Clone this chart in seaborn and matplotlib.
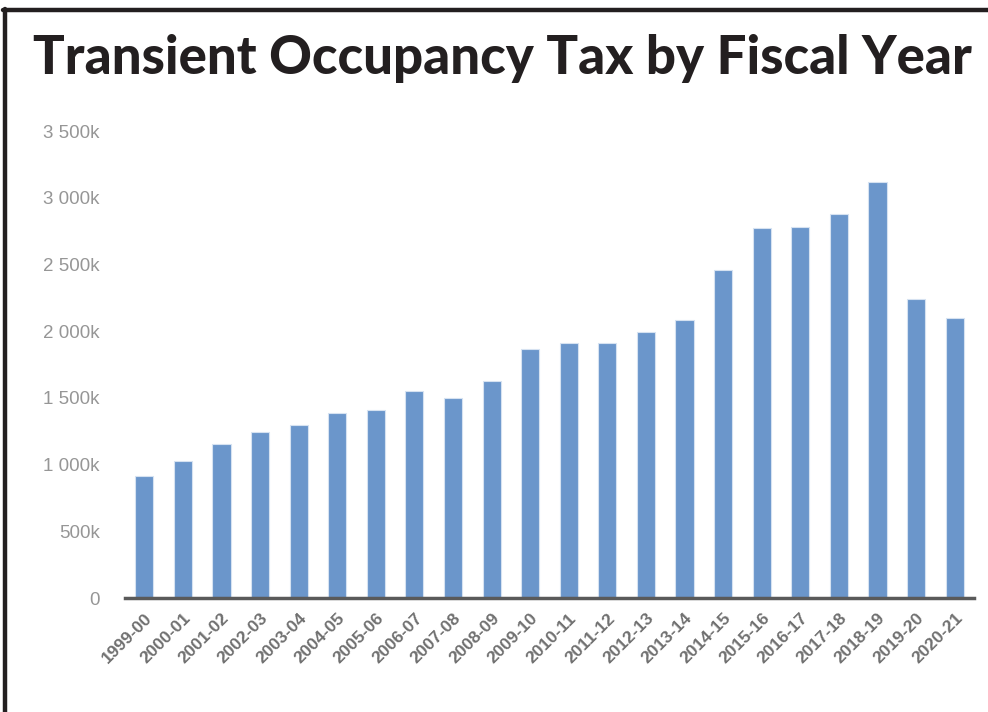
import matplotlib
matplotlib.use("Agg")
import matplotlib.pyplot as plt
from matplotlib.ticker import FuncFormatter
from matplotlib.lines import Line2D
import seaborn as sns
import pandas as pd

fiscal_years = [
    "1999-00", "2000-01", "2001-02", "2002-03", "2003-04", "2004-05",
    "2005-06", "2006-07", "2007-08", "2008-09", "2009-10", "2010-11",
    "2011-12", "2012-13", "2013-14", "2014-15", "2015-16", "2016-17",
    "2017-18", "2018-19", "2019-20", "2020-21",
]
tax_revenue = [
    915_000, 1_030_000, 1_158_000, 1_245_000, 1_296_000, 1_386_000,
    1_410_000, 1_551_000, 1_498_000, 1_628_000, 1_868_000, 1_908_000,
    1_908_000, 1_996_000, 2_083_000, 2_459_000, 2_771_000, 2_783_000,
    2_876_000, 3_121_000, 2_243_000, 2_101_000,
]
y_ticks = [0, 500_000, 1_000_000, 1_500_000, 2_000_000, 2_500_000, 3_000_000, 3_500_000]

df = pd.DataFrame({"year": fiscal_years, "tot": tax_revenue})

sns.set_theme(style="white")
plt.rcParams["font.family"] = ["Liberation Sans", "DejaVu Sans"]

fig = plt.figure(figsize=(9.88, 7.12), dpi=100)
ax = fig.add_axes([0.1265, 0.160, 0.8593, 0.656])

sns.barplot(data=df, x="year", y="tot", color="#6b96cb", width=0.47,
            edgecolor="#d6e2f1", linewidth=0.8, saturation=1, ax=ax)

ax.set_xlim(-0.5, len(fiscal_years) - 0.5)
ax.set_ylim(0, 3_500_000)
ax.set_yticks(y_ticks)
ax.yaxis.set_major_formatter(
    FuncFormatter(lambda v, p: "0" if v == 0 else f"{v/1000:,.0f}k".replace(",", " "))
)
ax.set_xlabel("")
ax.set_ylabel("")
ax.tick_params(axis="y", labelsize=13.5, labelcolor="#969696", length=0, pad=18)
ax.tick_params(axis="x", labelsize=12.5, labelcolor="#707070", length=0, pad=9)
plt.setp(ax.get_xticklabels(), rotation=45, ha="right", rotation_mode="anchor",
         fontweight="bold")

for side in ["top", "right", "left"]:
    ax.spines[side].set_visible(False)
ax.spines["bottom"].set_color("#5a5a5a")
ax.spines["bottom"].set_linewidth(2.5)

fig.text(0.509, 0.918, "Transient Occupancy Tax by Fiscal Year",
         ha="center", va="center", fontsize=38, fontweight="black",
         family=["Lato", "DejaVu Sans"], color="#231f20")

# frame along the top and left edges
fig.add_artist(Line2D([0.003, 1.0], [0.986, 0.986], transform=fig.transFigure,
                      color="#231f20", linewidth=3.2))
fig.add_artist(Line2D([0.005, 0.005], [0.0, 0.988], transform=fig.transFigure,
                      color="#231f20", linewidth=3.2))

fig.savefig("out.png", dpi=100)
